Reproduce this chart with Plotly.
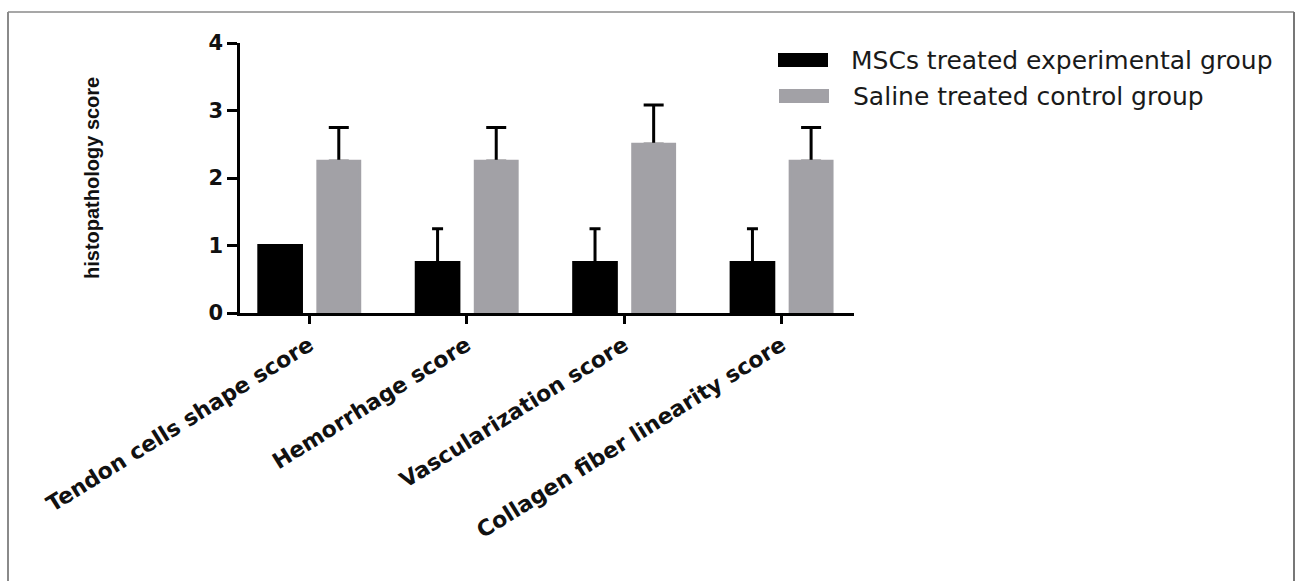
import plotly.graph_objects as go

categories = ["Tendon cells shape score", "Hemorrhage score",
              "Vascularization score", "Collagen fiber linearity score"]
msc_mean = [1.0, 0.75, 0.75, 0.75]
msc_sd = [0.0, 0.5, 0.5, 0.5]
saline_mean = [2.25, 2.25, 2.5, 2.25]
saline_sd = [0.5, 0.5, 0.58, 0.5]
y_ticks = [0, 1, 2, 3, 4]
series_names = ["MSCs treated experimental group", "Saline treated control group"]

BLACK = "#000000"
GRAY = "#a2a1a6"
CLEAR = "rgba(0,0,0,0)"

MSC_OFF, MSC_W = -0.33, 0.29
SAL_OFF, SAL_W = 0.045, 0.285
EDGE = 0.0095  # half of the 3px outline in axis units

fig = go.Figure()
# error bars (upper only) drawn first, bars drawn over their base
fig.add_trace(go.Bar(
    x=categories, y=msc_mean, marker=dict(color=CLEAR, line=dict(width=0)),
    offset=MSC_OFF, width=MSC_W, hoverinfo="skip", showlegend=False,
    error_y=dict(type="data", array=msc_sd, arrayminus=[0] * len(msc_sd),
                 symmetric=False, color=BLACK, thickness=3, width=5.5),
))
fig.add_trace(go.Bar(
    x=categories, y=saline_mean, marker=dict(color=CLEAR, line=dict(width=0)),
    offset=SAL_OFF, width=SAL_W, hoverinfo="skip", showlegend=False,
    error_y=dict(type="data", array=saline_sd, arrayminus=[0] * len(saline_sd),
                 symmetric=False, color=BLACK, thickness=3, width=10),
))
fig.add_trace(go.Bar(
    x=categories, y=msc_mean, name=series_names[0],
    marker=dict(color=BLACK, line=dict(color=BLACK, width=3)),
    offset=MSC_OFF + EDGE, width=MSC_W - 2 * EDGE, showlegend=False,
))
fig.add_trace(go.Bar(
    x=categories, y=saline_mean, name=series_names[1],
    marker=dict(color=GRAY, line=dict(color=GRAY, width=3)),
    offset=SAL_OFF + EDGE, width=SAL_W - 2 * EDGE, showlegend=False,
))

L, R, T, B = 240, 442, 43, 268
W, H = 1296, 581
PW, PH = W - L - R, H - T - B


def px(x):
    return (x - L) / PW


def py(y):
    return (H - B - y) / PH


shapes = [
    dict(type="line", xref="paper", yref="paper", x0=px(8), x1=px(1294), y0=py(12), y1=py(12),
         line=dict(color="#8a8a8a", width=1.5)),
    dict(type="line", xref="paper", yref="paper", x0=px(8), x1=px(8), y0=py(12), y1=py(600),
         line=dict(color="#8a8a8a", width=2)),
    dict(type="line", xref="paper", yref="paper", x0=px(1294), x1=px(1294), y0=py(12), y1=py(600),
         line=dict(color="#777777", width=2)),
    dict(type="rect", xref="paper", yref="paper", x0=px(778), x1=px(828), y0=py(53), y1=py(67),
         fillcolor=BLACK, line=dict(width=0)),
    dict(type="rect", xref="paper", yref="paper", x0=px(779), x1=px(829), y0=py(89), y1=py(103),
         fillcolor=GRAY, line=dict(width=0)),
]

annotations = [
    dict(text=series_names[0], xref="paper", yref="paper", x=px(849), y=py(60),
         xanchor="left", yanchor="middle", showarrow=False,
         font=dict(family="DejaVu Sans", size=25, color="#1a1a1a")),
    dict(text=series_names[1], xref="paper", yref="paper", x=px(851), y=py(97),
         xanchor="left", yanchor="middle", showarrow=False,
         font=dict(family="DejaVu Sans", size=25, color="#1a1a1a")),
    dict(text="<b>histopathology score</b>", xref="paper", yref="paper", x=px(92), y=0.5,
         xanchor="center", yanchor="middle", showarrow=False, textangle=-90,
         font=dict(family="Liberation Sans", size=20, color="#111111")),
]

fig.update_layout(
    width=W, height=H,
    margin=dict(l=L, r=R, t=T, b=B, pad=0),
    paper_bgcolor="white", plot_bgcolor="white",
    barmode="overlay",
    shapes=shapes, annotations=annotations,
    font=dict(family="DejaVu Sans", color="#111111"),
)
fig.update_xaxes(
    type="category", range=[-0.44, 3.46],
    showline=True, linecolor="black", linewidth=2.5,
    ticks="outside", ticklen=8, tickwidth=2.5, tickcolor="black",
    tickangle=-32, showgrid=False, zeroline=False,
    tickfont=dict(family="DejaVu Sans", size=22, color="#111111", weight="bold"),
)
fig.update_yaxes(
    range=[0, 4], tickvals=y_ticks, ticktext=[str(v) for v in y_ticks],
    showline=True, linecolor="black", linewidth=2.5,
    ticks="outside", ticklen=10, tickwidth=2.5, tickcolor="black",
    showgrid=False, zeroline=False,
    tickfont=dict(family="DejaVu Sans", size=21, color="#111111", weight="bold"),
)

fig.write_html("out.html", config={"displayModeBar": False},
               post_script="document.body.style.margin='0';document.body.style.overflow='hidden';")
